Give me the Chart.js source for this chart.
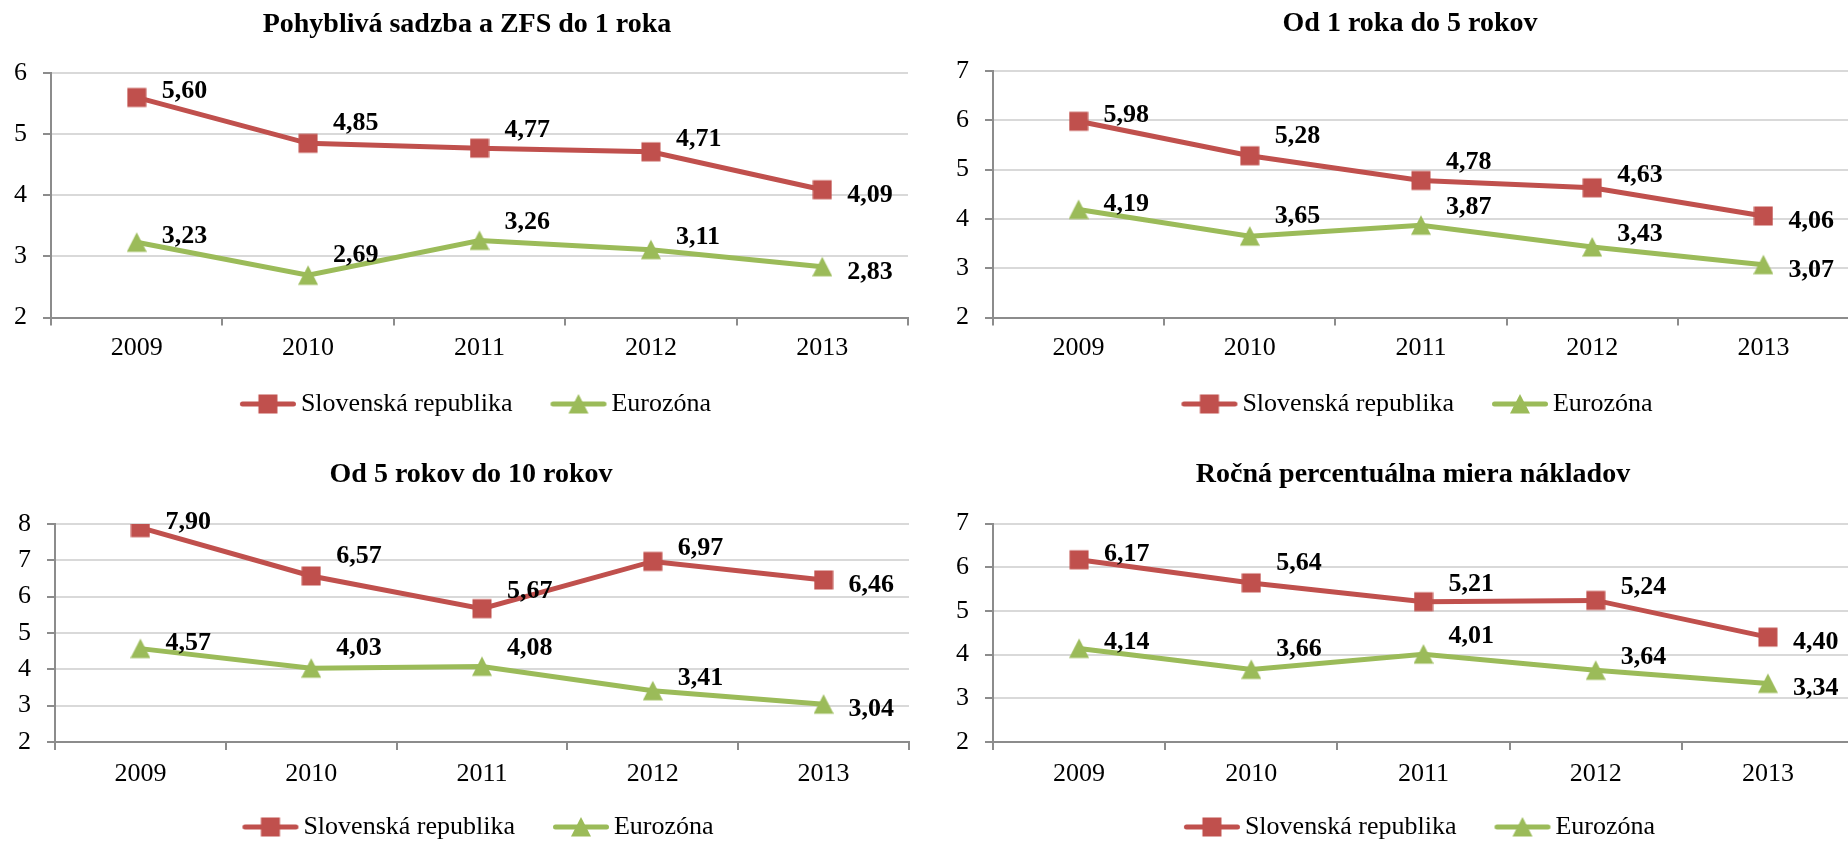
<!DOCTYPE html>
<html>
<head>
<meta charset="utf-8">
<script src="https://cdn.jsdelivr.net/npm/chart.js@4"></script>
<style>
  html, body { margin: 0; padding: 0; background: #fff; overflow: hidden; width: 1848px; height: 841px; }
  canvas { position: absolute; }
</style>
</head>
<body>
<canvas id="c1"></canvas>
<canvas id="c2"></canvas>
<canvas id="c3"></canvas>
<canvas id="c4"></canvas>
<script>
// data
const years = ['2009', '2010', '2011', '2012', '2013'];
const seriesNames = ['Slovenská republika', 'Eurozóna'];

const skFloating = [5.60, 4.85, 4.77, 4.71, 4.09];
const ezFloating = [3.23, 2.69, 3.26, 3.11, 2.83];
const sk1to5 = [5.98, 5.28, 4.78, 4.63, 4.06];
const ez1to5 = [4.19, 3.65, 3.87, 3.43, 3.07];
const sk5to10 = [7.90, 6.57, 5.67, 6.97, 6.46];
const ez5to10 = [4.57, 4.03, 4.08, 3.41, 3.04];
const skApr = [6.17, 5.64, 5.21, 5.24, 4.40];
const ezApr = [4.14, 3.66, 4.01, 3.64, 3.34];

const titles = [
  'Pohyblivá sadzba a ZFS do 1 roka',
  'Od 1 roka do 5 rokov',
  'Od 5 rokov do 10 rokov',
  'Ročná percentuálna miera nákladov'
];
const yMaxes = [6, 7, 8, 7];
const yMin = 2;

// style
const FONT = '"Liberation Serif", "Times New Roman", serif';
const RED = '#c0504d';
const GREEN = '#9bbb59';
const AXIS = '#8c8c8c';
const GRID = '#d9d9d9';
// how far the value labels sit above each point, by year
const labelLift = [-8, -22, -20, -15, 3];

function markerCanvas(kind, color, withLine) {
  const c = document.createElement('canvas');
  c.width = withLine ? 58 : 20;
  c.height = 22;
  const g = c.getContext('2d');
  const cx = c.width / 2, cy = c.height / 2;
  if (withLine) {
    g.strokeStyle = color;
    g.lineWidth = 5;
    g.lineCap = 'round';
    g.beginPath();
    g.moveTo(3.5, cy);
    g.lineTo(54.5, cy);
    g.stroke();
  }
  g.fillStyle = color;
  if (kind === 'square') {
    g.fillRect(cx - 9.5, cy - 9.5, 19, 19);
  } else {
    g.beginPath();
    g.moveTo(cx, cy - 10);
    g.lineTo(cx + 10, cy + 9.5);
    g.lineTo(cx - 10, cy + 9.5);
    g.closePath();
    g.fill();
  }
  return c;
}

const squareMark = markerCanvas('square', RED, false);
const triangleMark = markerCanvas('triangle', GREEN, false);
const squareLegend = markerCanvas('square', RED, true);
const triangleLegend = markerCanvas('triangle', GREEN, true);

const valueLabels = {
  id: 'valueLabels',
  afterDatasetsDraw(chart) {
    const ctx = chart.ctx;
    ctx.save();
    ctx.font = 'bold 26px ' + FONT;
    ctx.fillStyle = '#000';
    ctx.textAlign = 'left';
    ctx.textBaseline = 'alphabetic';
    chart.data.datasets.forEach((ds, i) => {
      chart.getDatasetMeta(i).data.forEach((pt, j) => {
        const txt = ds.data[j].toFixed(2).replace('.', ',');
        ctx.fillText(txt, pt.x + 25, pt.y + labelLift[j] + 9);
      });
    });
    ctx.restore();
  }
};

// the axis boxes are kept narrow, so let tick labels draw outside them
function noLabelClip(s) {
  s._computeLabelArea = () => null;
}

// page positions of each chart (canvas and plot box)
const frames = [
  { x: 0,   y: 0,   w: 924, left: 51,  right: 908,  top: 73,    bottom: 317.5, titleX: 467,  titleY: 24.5, labelsY: 348, legendY: 404 },
  { x: 924, y: 0,   w: 940, left: 993, right: 1853, top: 71,    bottom: 317.5, titleX: 1410, titleY: 23.5, labelsY: 348, legendY: 404 },
  { x: 0,   y: 451, w: 924, left: 55,  right: 912,  top: 524,   bottom: 742,   titleX: 471,  titleY: 475,  labelsY: 774, legendY: 827 },
  { x: 924, y: 451, w: 945, left: 993, right: 1859, top: 523.5, bottom: 742,   titleX: 1413, titleY: 475,  labelsY: 774, legendY: 827 }
];

function buildChart(id, f, title, yMax, sk, ez) {
  const canvas = document.getElementById(id);
  const h = Math.round(f.legendY - f.y + 23);
  canvas.width = f.w;
  canvas.height = h;
  canvas.style.left = f.x + 'px';
  canvas.style.top = f.y + 'px';

  const plotRight = f.right - f.x;
  const padLeft = 2 * (f.titleX - f.x) - plotRight;
  const yWidth = f.left - f.x - padLeft;
  const padRight = f.w - plotRight;
  const titleTop = f.titleY - f.y - 16.8;
  const titleBottom = f.top - f.titleY - 16.8;
  const xHeight = (h - 82) - (f.bottom - f.y);
  const xPad = f.labelsY - f.bottom - 8 - 15.6;

  return new Chart(canvas.getContext('2d'), {
    type: 'line',
    data: {
      labels: years,
      datasets: [
        {
          label: seriesNames[0],
          data: sk,
          borderColor: RED,
          backgroundColor: RED,
          borderWidth: 5,
          pointStyle: squareMark,
          pointRadius: 10,
          tension: 0,
          fill: false
        },
        {
          label: seriesNames[1],
          data: ez,
          borderColor: GREEN,
          backgroundColor: GREEN,
          borderWidth: 5,
          pointStyle: triangleMark,
          pointRadius: 10,
          tension: 0,
          fill: false
        }
      ]
    },
    options: {
      responsive: false,
      animation: false,
      devicePixelRatio: 1,
      layout: { padding: { left: padLeft, right: padRight, top: 0, bottom: 0 } },
      scales: {
        x: {
          offset: true,
          grid: { offset: true, drawOnChartArea: false, drawTicks: true, tickLength: 8, color: AXIS, lineWidth: 2 },
          border: { color: AXIS, width: 2 },
          ticks: { color: '#000', padding: xPad, font: { family: FONT, size: 26 }, maxRotation: 0 },
          afterFit: s => { s.height = xHeight; noLabelClip(s); }
        },
        y: {
          min: yMin,
          max: yMax,
          ticks: { stepSize: 1, color: '#000', padding: 16, font: { family: FONT, size: 26 } },
          grid: { color: GRID, lineWidth: 2, tickColor: AXIS, tickLength: 8 },
          border: { color: AXIS, width: 2 },
          afterFit: s => { s.width = yWidth; noLabelClip(s); }
        }
      },
      plugins: {
        tooltip: { enabled: false },
        title: {
          display: true,
          text: title,
          color: '#000',
          font: { family: FONT, size: 28, weight: 'bold' },
          padding: { top: titleTop, bottom: titleBottom }
        },
        legend: {
          position: 'bottom',
          fullSize: false,
          labels: {
            color: '#000',
            font: { family: FONT, size: 26 },
            usePointStyle: true,
            pointStyleWidth: 40,
            padding: 46,
            generateLabels: chart => {
              const items = Chart.defaults.plugins.legend.labels.generateLabels(chart);
              items[0].pointStyle = squareLegend;
              items[1].pointStyle = triangleLegend;
              return items;
            }
          }
        }
      }
    },
    plugins: [valueLabels]
  });
}

buildChart('c1', frames[0], titles[0], yMaxes[0], skFloating, ezFloating);
buildChart('c2', frames[1], titles[1], yMaxes[1], sk1to5, ez1to5);
buildChart('c3', frames[2], titles[2], yMaxes[2], sk5to10, ez5to10);
buildChart('c4', frames[3], titles[3], yMaxes[3], skApr, ezApr);
</script>
</body>
</html>
